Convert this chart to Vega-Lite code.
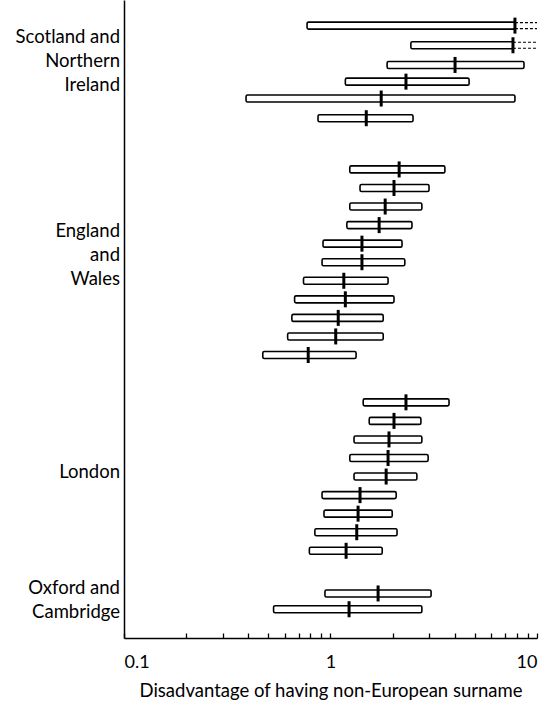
{
  "$schema": "https://vega.github.io/schema/vega-lite/v6.json",
  "width": 413,
  "height": 638,
  "autosize": {"type": "none"},
  "padding": {"left": 124, "top": 0, "right": 11, "bottom": 67},
  "background": "white",
  "config": {"view": {"stroke": null}, "font": "Lato"},
  "datasets": {
    "est": [
      {"group": "Scotland and Northern Ireland", "row": 1, "lo": 0.77, "est": 7.82, "hi": 7.82, "trunc": true},
      {"group": "Scotland and Northern Ireland", "row": 2.06, "lo": 2.45, "est": 7.65, "hi": 7.65, "trunc": true},
      {"group": "Scotland and Northern Ireland", "row": 3.12, "lo": 1.88, "est": 4.01, "hi": 8.65, "trunc": false},
      {"group": "Scotland and Northern Ireland", "row": 4.02, "lo": 1.18, "est": 2.32, "hi": 4.69, "trunc": false},
      {"group": "Scotland and Northern Ireland", "row": 4.93, "lo": 0.39, "est": 1.76, "hi": 7.82, "trunc": false},
      {"group": "Scotland and Northern Ireland", "row": 5.99, "lo": 0.87, "est": 1.49, "hi": 2.51, "trunc": false},
      {"group": "England and Wales", "row": 8.75, "lo": 1.24, "est": 2.15, "hi": 3.58, "trunc": false},
      {"group": "England and Wales", "row": 9.75, "lo": 1.39, "est": 2.03, "hi": 3.0, "trunc": false},
      {"group": "England and Wales", "row": 10.75, "lo": 1.24, "est": 1.84, "hi": 2.77, "trunc": false},
      {"group": "England and Wales", "row": 11.75, "lo": 1.2, "est": 1.72, "hi": 2.48, "trunc": false},
      {"group": "England and Wales", "row": 12.75, "lo": 0.92, "est": 1.42, "hi": 2.22, "trunc": false},
      {"group": "England and Wales", "row": 13.75, "lo": 0.91, "est": 1.42, "hi": 2.29, "trunc": false},
      {"group": "England and Wales", "row": 14.75, "lo": 0.74, "est": 1.16, "hi": 1.9, "trunc": false},
      {"group": "England and Wales", "row": 15.75, "lo": 0.67, "est": 1.18, "hi": 2.03, "trunc": false},
      {"group": "England and Wales", "row": 16.75, "lo": 0.65, "est": 1.09, "hi": 1.8, "trunc": false},
      {"group": "England and Wales", "row": 17.75, "lo": 0.62, "est": 1.06, "hi": 1.8, "trunc": false},
      {"group": "England and Wales", "row": 18.75, "lo": 0.47, "est": 0.78, "hi": 1.33, "trunc": false},
      {"group": "London", "row": 21.3, "lo": 1.44, "est": 2.32, "hi": 3.75, "trunc": false},
      {"group": "London", "row": 22.3, "lo": 1.54, "est": 2.03, "hi": 2.74, "trunc": false},
      {"group": "London", "row": 23.3, "lo": 1.3, "est": 1.92, "hi": 2.77, "trunc": false},
      {"group": "London", "row": 24.3, "lo": 1.24, "est": 1.9, "hi": 2.97, "trunc": false},
      {"group": "London", "row": 25.3, "lo": 1.3, "est": 1.86, "hi": 2.62, "trunc": false},
      {"group": "London", "row": 26.3, "lo": 0.91, "est": 1.39, "hi": 2.08, "trunc": false},
      {"group": "London", "row": 27.3, "lo": 0.93, "est": 1.36, "hi": 1.99, "trunc": false},
      {"group": "London", "row": 28.3, "lo": 0.84, "est": 1.34, "hi": 2.1, "trunc": false},
      {"group": "London", "row": 29.3, "lo": 0.79, "est": 1.19, "hi": 1.78, "trunc": false},
      {"group": "Oxford and Cambridge", "row": 31.6, "lo": 0.94, "est": 1.7, "hi": 3.07, "trunc": false},
      {"group": "Oxford and Cambridge", "row": 32.45, "lo": 0.53, "est": 1.23, "hi": 2.77, "trunc": false}
    ],
    "labels": [
      {"label": "Scotland and\nNorthern\nIreland", "row": 1.64},
      {"label": "England\nand\nWales", "row": 12.09},
      {"label": "London", "row": 25.03},
      {"label": "Oxford and\nCambridge", "row": 31.3}
    ]
  },
  "layer": [
    {
      "mark": {"type": "rule", "strokeDash": [5, 5], "color": "black", "strokeWidth": 1},
      "encoding": {"x": {"datum": 1, "type": "quantitative", "scale": {"type": "log", "domain": [0.1, 10]}}}
    },
    {
      "data": {"name": "est"},
      "mark": {"type": "bar", "orient": "horizontal", "size": 7, "fill": "white", "stroke": "black", "strokeWidth": 1.6, "cornerRadius": 1.5},
      "encoding": {
        "x": {"field": "lo", "type": "quantitative", "scale": {"type": "log", "domain": [0.1, 10]},
          "axis": {"values": [0.1, 0.2, 0.3, 0.4, 0.5, 0.6, 0.7, 0.8, 0.9, 1, 2, 3, 4, 5, 6, 7, 8, 9, 10],
            "labelExpr": "datum.value == 0.1 ? '0.1' : (datum.value == 1 ? '1' : (datum.value == 10 ? '10' : ''))",
            "tickSize": -5, "tickColor": "black", "domainColor": "black", "domainWidth": 1.5, "tickWidth": 1.3,
            "labelFontSize": 18, "labelColor": "black", "labelPadding": 20, "labelFont": "Lato",
            "title": "Disadvantage of having non-European surname", "titleFontSize": 18.5, "titleFontWeight": "normal",
            "titleColor": "black", "titlePadding": 10, "titleFont": "Lato", "grid": false, "labelOverlap": false}},
        "x2": {"field": "hi"},
        "y": {"field": "row", "type": "quantitative", "scale": {"domain": [-0.11, 33.73], "reverse": true, "nice": false, "zero": false},
          "axis": {"labels": false, "ticks": false, "title": null, "grid": false, "domainColor": "black", "domainWidth": 1.5}}
      }
    },
    {
      "data": {"name": "est"},
      "transform": [{"filter": "datum.trunc"}],
      "mark": {"type": "rule", "strokeDash": [3, 2], "color": "black", "strokeWidth": 1.2, "yOffset": -3},
      "encoding": {
        "x": {"field": "est", "type": "quantitative"},
        "x2": {"datum": 10},
        "y": {"field": "row", "type": "quantitative"}
      }
    },
    {
      "data": {"name": "est"},
      "transform": [{"filter": "datum.trunc"}],
      "mark": {"type": "rule", "strokeDash": [3, 2], "color": "black", "strokeWidth": 1.2, "yOffset": 3},
      "encoding": {
        "x": {"field": "est", "type": "quantitative"},
        "x2": {"datum": 10},
        "y": {"field": "row", "type": "quantitative"}
      }
    },
    {
      "data": {"name": "est"},
      "mark": {"type": "tick", "orient": "vertical", "size": 16, "thickness": 3, "color": "black", "opacity": 1},
      "encoding": {
        "x": {"field": "est", "type": "quantitative"},
        "y": {"field": "row", "type": "quantitative"}
      }
    },
    {
      "data": {"name": "labels"},
      "mark": {"type": "text", "align": "right", "baseline": "middle", "dx": -4, "fontSize": 18.5, "lineHeight": 24, "lineBreak": "\n", "color": "black", "font": "Lato"},
      "encoding": {
        "x": {"datum": 0.1, "type": "quantitative"},
        "y": {"field": "row", "type": "quantitative"},
        "text": {"field": "label"}
      }
    }
  ]
}
